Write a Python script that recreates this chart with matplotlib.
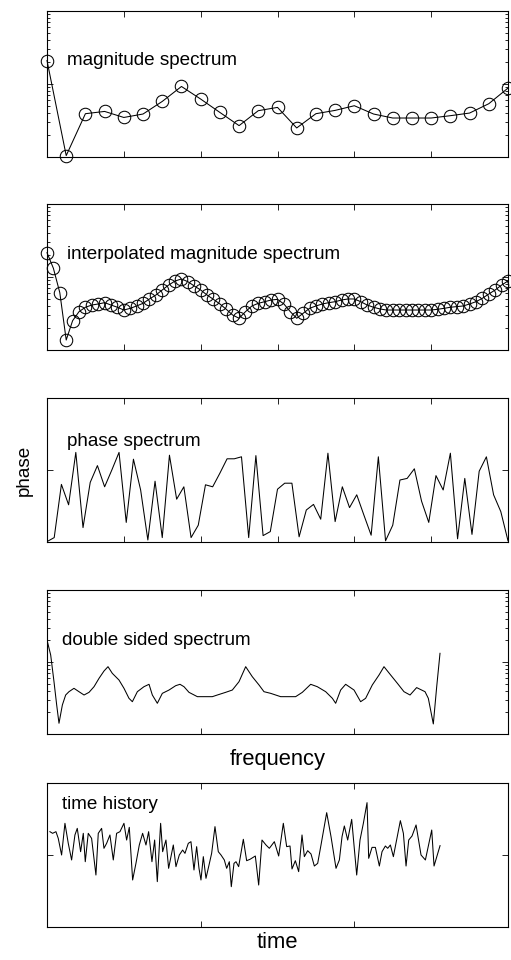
import numpy as np
import matplotlib
matplotlib.use("Agg")
import matplotlib.pyplot as plt
from matplotlib.ticker import LogLocator, NullFormatter, FixedLocator

plt.rcParams['font.family'] = ['Liberation Sans', 'DejaVu Sans']

# ---------------- data ----------------
mag_bins = list(range(25))
mag_values = [2.094, 0.1045, 0.392, 0.421, 0.348, 0.388, 0.577, 0.925, 0.622, 0.408,
              0.269, 0.431, 0.478, 0.250, 0.392, 0.435, 0.504, 0.388, 0.342, 0.342,
              0.342, 0.368, 0.400, 0.537, 0.879]

interp_step = 1.0 / 3.0
interp_values = [2.153, 1.315, 0.610, 0.137, 0.252, 0.335, 0.385, 0.413, 0.427, 0.445,
                 0.413, 0.385, 0.353, 0.372, 0.401, 0.436, 0.500, 0.566, 0.664, 0.776,
                 0.881, 0.940, 0.863, 0.753, 0.664, 0.566, 0.494, 0.427, 0.361, 0.301,
                 0.272, 0.335, 0.401, 0.436, 0.459, 0.484, 0.494, 0.427, 0.335, 0.272,
                 0.318, 0.372, 0.401, 0.427, 0.445, 0.459, 0.484, 0.500, 0.500, 0.459,
                 0.413, 0.385, 0.365, 0.353, 0.353, 0.353, 0.353, 0.353, 0.353, 0.353,
                 0.353, 0.361, 0.372, 0.385, 0.393, 0.401, 0.427, 0.459, 0.511, 0.585,
                 0.664, 0.776, 0.881]

phase_deg = [-179, -169, -36, -87, 44, -144, -31, 11, -42, 0,
             44, -131, 27, -50, -175, -28, -169, 37, -73, -42,
             -169, -138, -37, -42, -8, 28, 28, 33, -169, 36,
             -164, -154, -48, -33, -33, -167, -100, -86, -123, 42,
             -129, -42, -94, -62, -113, -163, 33, -177, -138, -25,
             -21, 3, -78, -131, -14, -50, 42, -172, -21, -161,
             -3, 33, -62, -104, -177]

ds_freq = [0, 0.48, 0.91, 1.26, 1.56, 2.0, 2.43, 2.86, 3.51, 4.16,
           4.82, 5.47, 6.12, 6.77, 7.42, 7.94, 8.50, 9.37, 10.02, 10.67,
           11.11, 11.76, 12.62, 13.28, 13.71, 14.36, 15.01, 15.88, 16.75, 17.31,
           17.83, 18.48, 19.57, 20.43, 21.52, 22.17, 23.25, 24.12, 24.99, 25.86,
           26.72, 27.59, 28.24, 29.11, 30.41, 32.36, 33.23, 34.32, 35.18, 36.27,
           37.14, 37.57, 38.22, 38.87, 39.96, 40.82, 41.47, 42.34, 43.21, 43.86,
           44.73, 45.60, 46.46, 47.25, 48.11, 49.20, 49.63, 50.28, 50.72, 51.15]
ds_values = [2.02, 1.25, 0.533, 0.253, 0.141, 0.253, 0.348, 0.387, 0.431, 0.387,
             0.348, 0.379, 0.454, 0.593, 0.750, 0.861, 0.696, 0.562, 0.431, 0.313,
             0.281, 0.387, 0.454, 0.490, 0.348, 0.267, 0.367, 0.408, 0.469, 0.490,
             0.454, 0.379, 0.330, 0.330, 0.330, 0.348, 0.379, 0.408, 0.533, 0.861,
             0.625, 0.480, 0.387, 0.367, 0.330, 0.330, 0.379, 0.490, 0.454, 0.387,
             0.313, 0.267, 0.408, 0.490, 0.408, 0.281, 0.313, 0.480, 0.659, 0.861,
             0.659, 0.506, 0.387, 0.348, 0.441, 0.387, 0.313, 0.138, 0.454, 1.32]

time_s = [0, 0.82, 1.85, 2.56, 3.59, 4.62, 5.64, 6.67, 7.69, 8.41,
          9.44, 10.26, 10.87, 11.79, 12.82, 14.15, 14.87, 15.90, 16.62, 17.44,
          18.46, 19.49, 20.51, 21.54, 22.77, 23.59, 24.41, 25.44, 26.46, 27.49,
          28.51, 29.54, 30.36, 31.38, 32.21, 33.03, 34.05, 34.67, 35.69, 36.51,
          37.13, 37.95, 38.77, 39.79, 40.82, 41.54, 42.56, 43.38, 44.31, 45.13,
          45.85, 46.46, 47.18, 48.0, 48.82, 49.74, 50.77, 51.79, 52.62, 53.64,
          54.36, 55.18, 55.79, 56.62, 57.23, 58.05, 59.49, 60.51, 61.54, 63.18,
          64.21, 65.23, 66.46, 67.49, 69.03, 70.36, 71.79, 72.82, 73.85, 74.46,
          75.49, 76.51, 77.54, 78.26, 79.28, 80.31, 81.33, 82.36, 83.38, 85.13,
          86.46, 88.0, 89.03, 89.85, 90.56, 91.59, 92.82, 94.36, 95.38, 96.41,
          97.54, 98.05, 99.08, 100.10, 101.33, 102.15, 103.18, 103.90, 104.72, 105.64,
          107.79, 108.72, 109.54, 110.36, 111.38, 112.62, 114.15, 115.49, 117.44, 118.15,
          120.0]
time_values = [0.324, 0.301, 0.324, 0.231, 0.0, 0.440, 0.162, -0.069, 0.278, 0.370,
               0.046, 0.301, -0.093, 0.301, 0.231, -0.278, 0.301, 0.370, 0.093, 0.162,
               0.278, -0.069, 0.301, 0.324, 0.440, 0.208, 0.384, -0.347, -0.116, 0.139,
               0.301, 0.139, 0.324, -0.093, 0.208, -0.370, 0.440, 0.046, 0.208, -0.185,
               -0.046, 0.139, -0.162, 0.0, 0.069, 0.023, 0.162, 0.185, -0.208, 0.116,
               -0.185, -0.347, -0.023, -0.324, -0.162, 0.023, 0.394, 0.046, 0.0, -0.069,
               -0.185, -0.093, -0.440, -0.116, -0.093, -0.162, 0.218, -0.079, -0.060, -0.014,
               -0.417, 0.208, 0.139, 0.093, 0.185, -0.014, 0.440, 0.116, 0.125, -0.194,
               -0.079, -0.231, 0.278, -0.023, 0.060, 0.014, -0.153, -0.116, 0.139, 0.588,
               0.255, -0.185, -0.069, 0.255, 0.403, 0.208, 0.495, -0.278, 0.208, 0.440,
               0.727, -0.046, 0.106, 0.106, -0.153, 0.046, 0.125, 0.093, 0.139, -0.023,
               0.477, 0.301, -0.153, 0.208, 0.264, 0.417, 0.0, -0.069, 0.347, -0.153,
               0.130]

labels = ["magnitude spectrum", "interpolated magnitude spectrum", "phase spectrum",
          "double sided spectrum", "time history"]

# ---------------- figure ----------------
W, H = 511, 960
fig = plt.figure(figsize=(W / 100, H / 100), dpi=100)

def rect(top, bottom, left=47, right=508):
    return [left / W, 1 - bottom / H, (right - left) / W, (bottom - top) / H]

axes = [fig.add_axes(rect(11, 157)),
        fig.add_axes(rect(204, 350)),
        fig.add_axes(rect(398, 542)),
        fig.add_axes(rect(590, 734)),
        fig.add_axes(rect(783, 927))]

line_kw = dict(color='black', lw=0.75)
mk_kw = dict(marker='o', ms=9, mfc='none', mec='black', mew=0.75, clip_on=False)

ax = axes[0]
ax.plot(mag_bins, mag_values, **line_kw, **mk_kw)
ax.set_xlim(0, 24)

ax = axes[1]
interp_x = np.arange(len(interp_values)) * interp_step
ax.plot(interp_x, interp_values, **line_kw, **mk_kw)
ax.set_xlim(0, 24)

for ax in axes[:2] + [axes[3]]:
    ax.set_yscale('log')
    ax.set_ylim(0.1, 10)
    ax.yaxis.set_major_locator(LogLocator(base=10, numticks=10))
    ax.yaxis.set_minor_locator(LogLocator(base=10, subs=np.arange(2, 10), numticks=20))
    ax.yaxis.set_major_formatter(NullFormatter())
    ax.yaxis.set_minor_formatter(NullFormatter())

for ax in axes[:2]:
    ax.xaxis.set_major_locator(FixedLocator(np.arange(0, 25, 4)))

ax = axes[2]
ax.plot(np.arange(len(phase_deg)), phase_deg, **line_kw)
ax.set_xlim(0, len(phase_deg) - 1)
ax.set_ylim(-180, 180)
ax.set_yticks([-180, 0, 180])
ax.xaxis.set_major_locator(FixedLocator(np.linspace(0, len(phase_deg) - 1, 7)))

ax = axes[3]
ax.plot(ds_freq, ds_values, **line_kw)
ax.set_xlim(0, 60)
ax.xaxis.set_major_locator(FixedLocator([0, 20, 40, 60]))

ax = axes[4]
ax.plot(time_s, time_values, **line_kw)
tlim = (-0.9, 140.9)
ax.set_xlim(*tlim)
ax.set_ylim(-1, 1)
ax.set_yticks([-1, 0, 1])
ax.xaxis.set_major_locator(FixedLocator(np.linspace(tlim[0], tlim[1], 4)))

text_pos = [(0.043, 0.66), (0.043, 0.655), (0.043, 0.697), (0.032, 0.648), (0.032, 0.854)]
for ax, lab, (tx, ty) in zip(axes, labels, text_pos):
    ax.text(tx, ty, lab, transform=ax.transAxes, ha='left', va='center', fontsize=13.6)
    ax.tick_params(axis='both', which='both', direction='in', top=True, right=True,
                   labelbottom=False, labelleft=False, labeltop=False, labelright=False,
                   width=0.6)
    ax.tick_params(which='major', length=4)
    ax.tick_params(which='minor', length=2.2)
    for sp in ax.spines.values():
        sp.set_linewidth(0.8)

fig.text(277.5 / W, 1 - 760 / H, "frequency", ha='center', va='center', fontsize=15.8)
fig.text(277.5 / W, 1 - 943 / H, "time", ha='center', va='center', fontsize=15.8)
fig.text(24 / W, 1 - 470 / H, "phase", ha='center', va='center', rotation=90, fontsize=13.6)

fig.savefig("out.png", dpi=100)
